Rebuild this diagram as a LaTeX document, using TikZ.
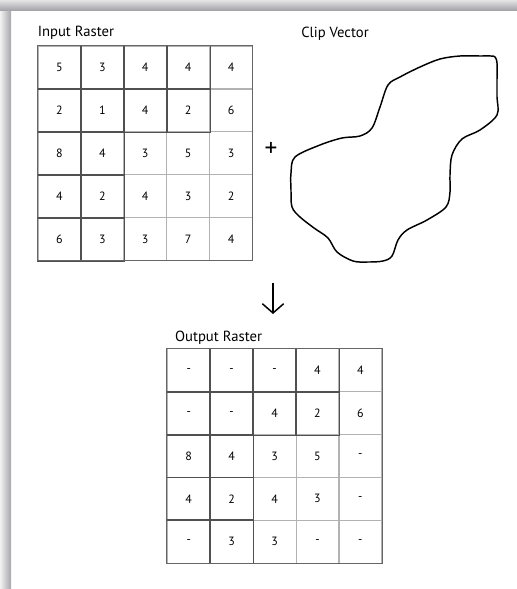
\documentclass[tikz,border=0pt]{standalone}
\usepackage{fontspec}
\setmainfont{PT Sans}
\usetikzlibrary{arrows.meta,positioning}
\definecolor{gridlight}{RGB}{178,178,178}
\definecolor{griddark}{RGB}{80,80,80}
\definecolor{pageshadow}{RGB}{165,165,170}

\begin{document}
\begin{tikzpicture}[
  x=0.75pt, y=-0.75pt,
  cell/.style={draw=gridlight,line width=0.6pt,minimum size=32.2pt,inner sep=0pt,font=\fontsize{9}{10}\selectfont},
  darkline/.style={draw=griddark,line width=0.6pt},
  frame/.style={draw=black!60,line width=0.8pt},
  title/.style={inner sep=0pt,font=\fontsize{11}{13}\selectfont},
  blob/.style={line width=1.1pt,line join=round},
  arrow/.style={-{Straight Barb[length=7pt,width=16pt]},line width=1.1pt}
]
\useasboundingbox (0,0) rectangle (517,589);
% page edge
\shade[left color=white!85!pageshadow,right color=pageshadow] (0,0) rectangle (11,589);
\shade[top color=white!70!pageshadow,bottom color=pageshadow] (0,0) rectangle (517,10);

% input raster
\foreach \row [count=\r] in {{5,3,4,4,4},{2,1,4,2,6},{8,4,3,5,3},{4,2,4,3,2},{6,3,3,7,4}}
  \foreach \v [count=\c] in \row
    \node[cell] (in-\r-\c) at ({59.45+42.9*(\c-1)},{67.45+42.9*(\r-1)}) {\v};
\foreach \r/\c in {1/1,1/2,1/3,1/4,2/1,2/2,2/3,2/4,3/1,3/2,4/1,4/2,5/1,5/2}
  \draw[darkline] (in-\r-\c.north west) rectangle (in-\r-\c.south east);
\draw[frame] (in-1-1.north west) rectangle (in-5-5.south east);
\node[title,anchor=base west] (intitle) at ([yshift=6.5pt]in-1-1.north west) {Input Raster};

% clip vector
\node[title,anchor=base west] (cliptitle) at (301,37) {Clip Vector};
\draw[blob] plot[smooth cycle,tension=0.55] coordinates {
  (440,59) (460,56) (480,56) (491,56) (495,57) (497,63) (497,80) (497,97) (497,115)
  (480,130) (462,139) (452,155) (450,175) (450,192) (446,207)
  (427,220) (407,230) (398,240) (392,256) (383,261) (368,262)
  (353,261) (337,252) (328,238) (314,228) (300,217) (292,207)
  (291,190) (291,173) (295,157) (320,145) (342,138) (360,136)
  (372,128) (380,107) (388,85) (400,77) (420,67)};
\node[inner sep=0pt,font=\fontsize{19}{19}\selectfont] (plus) at (271,149) {+};

% arrow
\coordinate (arrtop) at (273,283);
\coordinate (arrbot) at (273,314);
\draw[arrow] (arrtop) -- (arrbot);

% output raster
\foreach \row [count=\r] in {{-,-,-,4,4},{-,-,4,2,6},{8,4,3,5,-},{4,2,4,3,-},{-,3,3,-,-}}
  \foreach \v [count=\c] in \row
    \node[cell] (out-\r-\c) at ({188.75+42.9*(\c-1)},{370.15+42.9*(\r-1)}) {\v};
\foreach \r/\c in {1/1,1/2,1/3,1/4,2/1,2/2,2/3,2/4,3/1,3/2,4/1,4/2,5/1,5/2}
  \draw[darkline] (out-\r-\c.north west) rectangle (out-\r-\c.south east);
\draw[frame] (out-1-1.north west) rectangle (out-5-5.south east);
\node[title,anchor=base west] (outtitle) at ([xshift=6pt,yshift=5pt]out-1-1.north west) {Output Raster};
\end{tikzpicture}
\end{document}
